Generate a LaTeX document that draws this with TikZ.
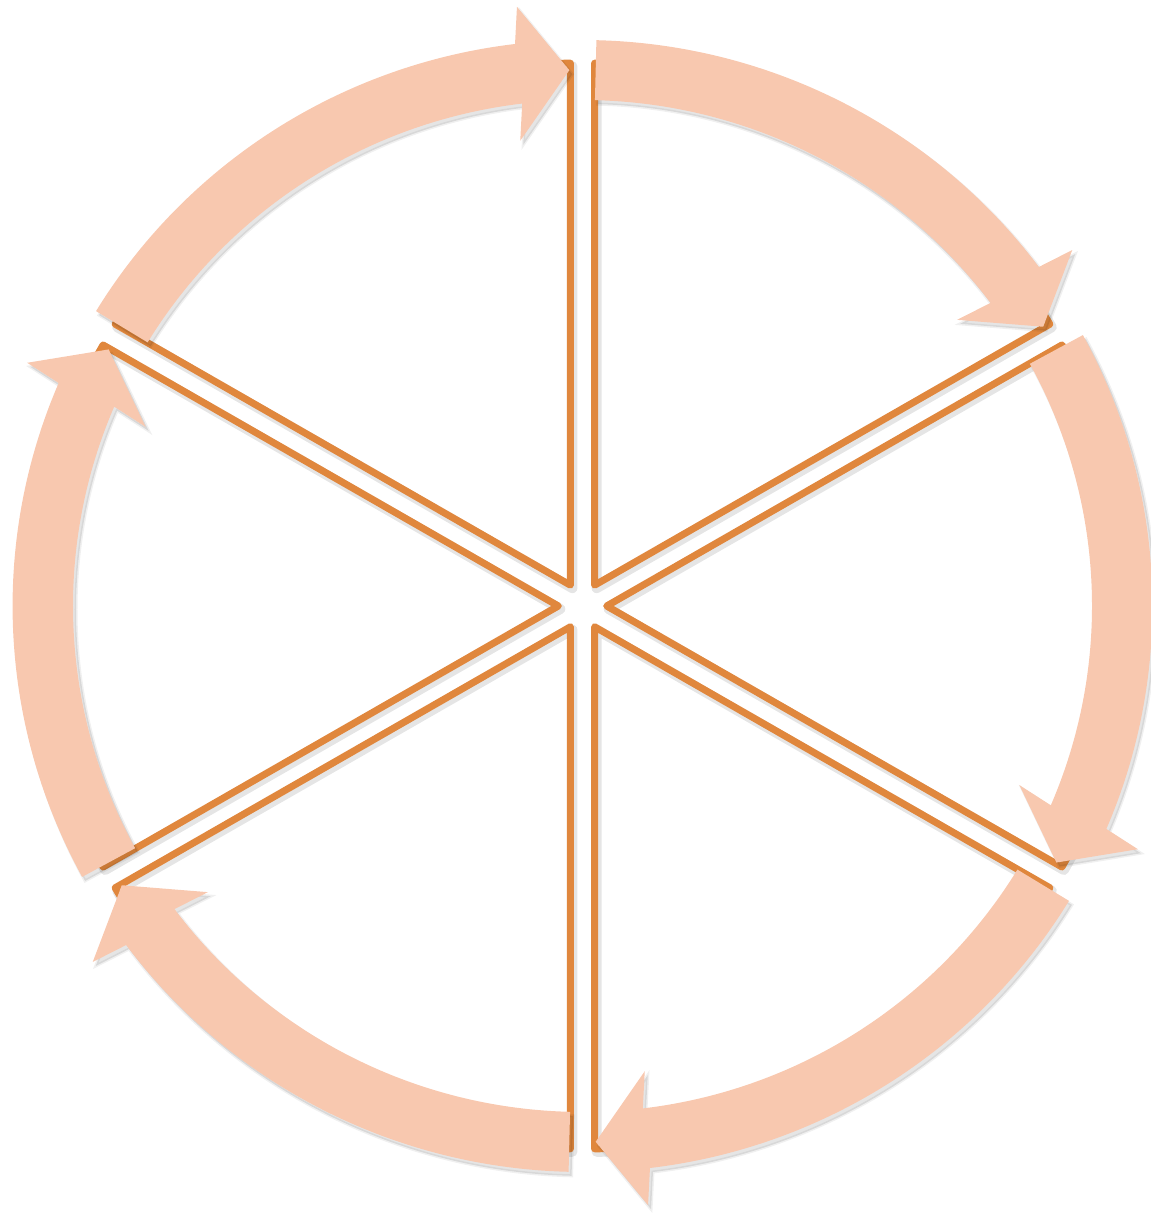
\documentclass[tikz,border=0pt]{standalone}
\usetikzlibrary{calc}
\definecolor{wedgeline}{RGB}{224,135,61}
\definecolor{arrowfill}{RGB}{248,200,175}
\begin{document}
\begin{tikzpicture}[x=1.007pt,y=1pt,
  wedgeshape/.style={draw=wedgeline, line width=7pt, line join=round, line cap=round},
  wedgeshadow/.style={draw=black, draw opacity=0.10, line width=10pt, line join=round},
  arrowshape/.style={fill=arrowfill},
  arrowshadow/.style={fill=black, fill opacity=0.10, draw=black, draw opacity=0.06, line width=3pt}]
\useasboundingbox (0pt,0pt) rectangle (1151pt,1213pt);
\coordinate (C) at (582.5pt,607pt);
% wedge shadows
\foreach \p in {60,0,-60,-120,180,120}{
  \draw[wedgeshadow, transform canvas={shift={(2pt,-3pt)}}] ($(C)+(\p:24)$) -- ++(\p+30:522) arc[start angle=\p+30, end angle=\p-30, radius=522] -- cycle;
}
% wedges
\foreach \p in {60,0,-60,-120,180,120}{
  \draw[wedgeshape] ($(C)+(\p:24)$) -- ++(\p+30:522) arc[start angle=\p+30, end angle=\p-30, radius=522] -- cycle;
}
% arrow shadows
\foreach \b in {150,90,30,-30,-90,-150}{
  \pgfmathsetmacro\aa{\b-1.4}
  \pgfmathsetmacro\ab{\b-58.6}
  \pgfmathsetmacro\am{\b-53.2}
  \path[arrowshadow, transform canvas={shift={(3pt,-4pt)}}] ($(C)+(\aa:566)$) arc[start angle=\aa, end angle=\am, radius=566]
    -- ($(C)+(\am:536)+(\ab:67)$) -- ($(C)+(\ab:536)$) -- ($(C)+(\am:536)-(\ab:67)$)
    -- ($(C)+(\am:506)$) arc[start angle=\am, end angle=\aa, radius=506] -- cycle;
}
% arrows
\foreach \b in {150,90,30,-30,-90,-150}{
  \pgfmathsetmacro\aa{\b-1.4}
  \pgfmathsetmacro\ab{\b-58.6}
  \pgfmathsetmacro\am{\b-53.2}
  \fill[arrowshape] ($(C)+(\aa:566)$) arc[start angle=\aa, end angle=\am, radius=566]
    -- ($(C)+(\am:536)+(\ab:67)$) -- ($(C)+(\ab:536)$) -- ($(C)+(\am:536)-(\ab:67)$)
    -- ($(C)+(\am:506)$) arc[start angle=\am, end angle=\aa, radius=506] -- cycle;
}
\end{tikzpicture}
\end{document}
